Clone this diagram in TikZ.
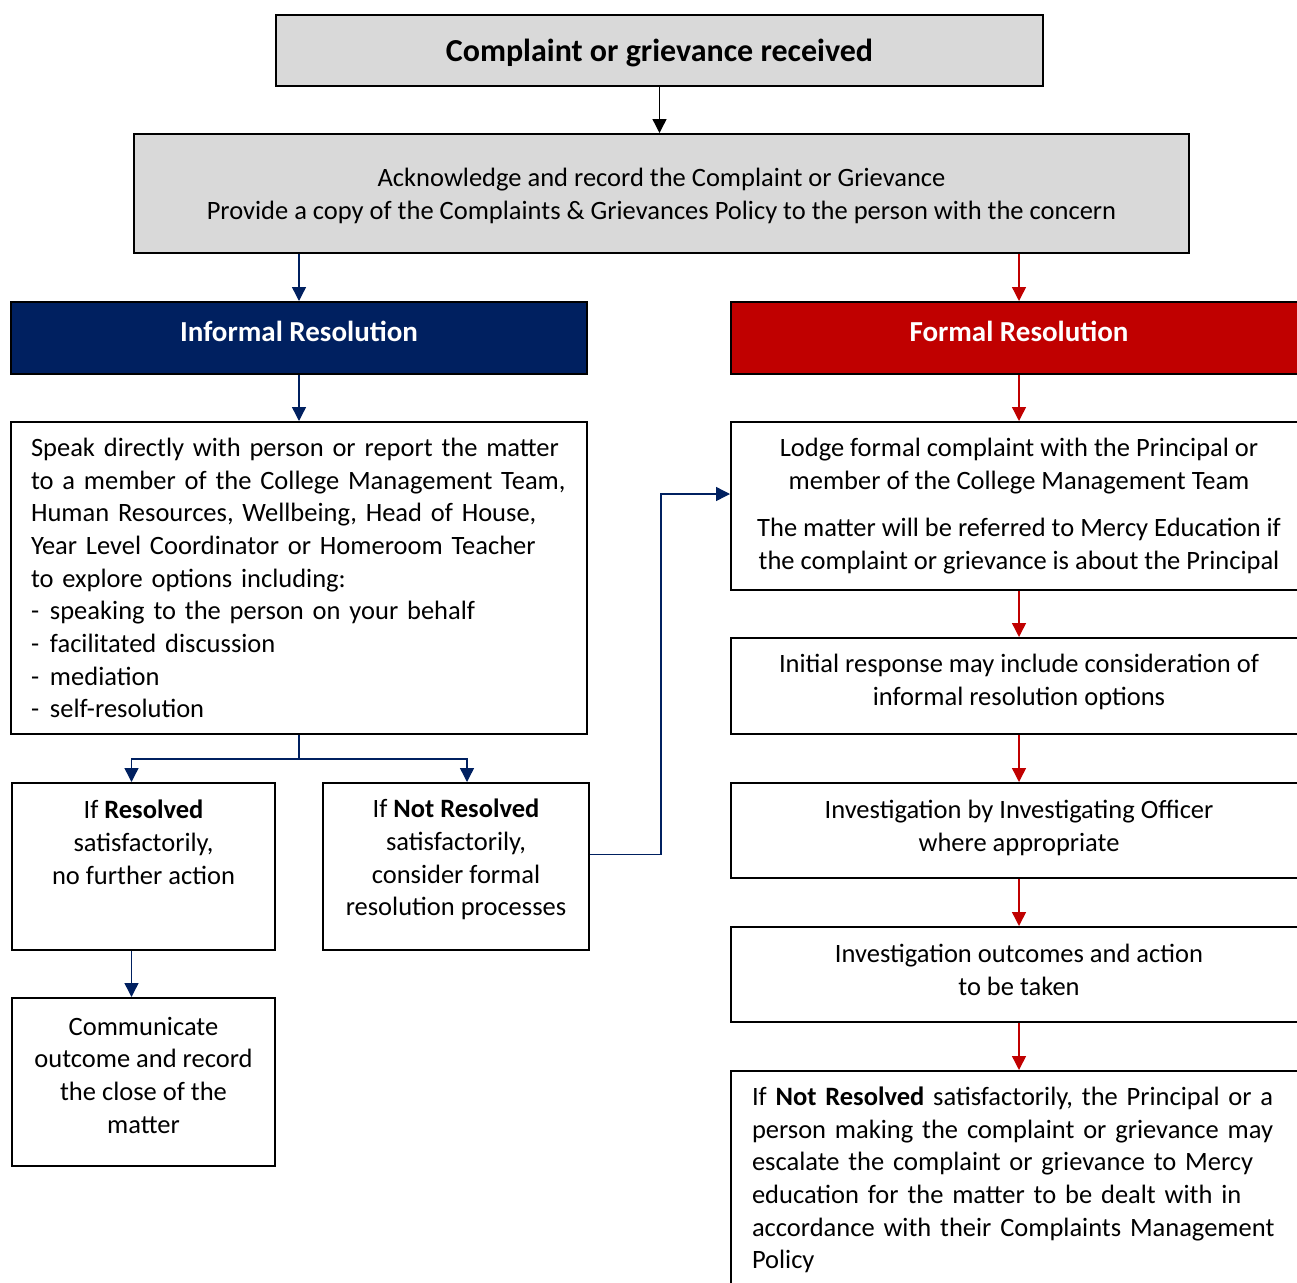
\documentclass[tikz,border=0pt]{standalone}
\usepackage{fontspec}
\setmainfont{Carlito}
\usetikzlibrary{arrows.meta,calc}
\definecolor{navy}{HTML}{002060}
\definecolor{dred}{HTML}{C00000}
\definecolor{lgray}{HTML}{D9D9D9}
\newcommand{\tightsp}{\spaceskip=4.4pt plus 1pt minus 1pt\relax}
\tikzset{
  box/.style={draw=black, line width=2pt, anchor=north west, inner xsep=0pt, inner ysep=0pt,
    font=\fontsize{26.5}{32.7}\selectfont, align=center},
  leftbox/.style={box, align=left, inner xsep=20pt,
    font=\fontsize{26.5}{32.7}\selectfont\tightsp},
  headbox/.style={box, text=white, minimum width=576pt, minimum height=72pt, text depth=14pt,
    font=\fontsize{29}{32}\selectfont\bfseries},
  bluearr/.style={draw=navy, line width=1.4pt, -{Triangle[length=14pt,width=14pt]}},
  redarr/.style={draw=dred, line width=1.4pt, -{Triangle[length=14pt,width=14pt]}},
  blackarr/.style={draw=black, line width=1.4pt, -{Triangle[length=14pt,width=14pt]}},
}
\newcommand{\itm}[1]{\makebox[19pt][l]{-}#1}
\begin{document}
\begin{tikzpicture}[x=1pt,y=-1pt]
\useasboundingbox (0,0) rectangle (1297,1282);
\clip (0,0) rectangle (1297,1282);

\node[box, fill=lgray, minimum width=767pt, minimum height=71pt, text depth=0pt,
  font=\fontsize{32}{36}\selectfont\bfseries] (top) at (275,14) {Complaint or grievance received};
\node[box, fill=lgray, minimum width=1055pt, minimum height=119pt, text depth=0pt] (ack) at (133,133)
  {Acknowledge and record the Complaint or Grievance\\Provide a copy of the Complaints \& Grievances Policy to the person with the concern};

\node[headbox, fill=navy] (inf) at (10,301) {Informal Resolution};
\node[headbox, fill=dred] (form) at (730,301) {Formal Resolution};

\node[leftbox, text width=536pt, minimum width=576pt, minimum height=312pt] (inftext) at (10,421)
  {Speak directly with person or report the matter\\
   to a member of the College Management Team,\\
   Human Resources, Wellbeing, Head of House,\\
   Year Level Coordinator or Homeroom Teacher\\
   to explore options including:\\
   \itm{speaking to the person on your behalf}\\
   \itm{facilitated discussion}\\
   \itm{mediation}\\
   \itm{self-resolution}};

\node[box, minimum width=263pt, minimum height=167pt, text depth=16pt] (res) at (11,782)
  {If \textbf{Resolved}\\satisfactorily,\\no further action\\\strut};
\node[box, minimum width=266pt, minimum height=167pt, text depth=18pt] (notres) at (322,782)
  {If \textbf{Not Resolved}\\satisfactorily,\\consider formal\\resolution processes};
\node[box, minimum width=263pt, minimum height=168pt, text depth=14pt] (comm) at (11,997)
  {Communicate\\outcome and record\\the close of the\\matter};

\node[box, minimum width=576pt, minimum height=168pt] (lodge) at (730,421)
  {Lodge formal complaint with the Principal or\\member of the College Management Team\\[15pt]
   The matter will be referred to Mercy Education if\\the complaint or grievance is about the Principal};
\node[box, minimum width=576pt, minimum height=96pt, text depth=12pt] (initial) at (730,637)
  {Initial response may include consideration of\\informal resolution options};
\node[box, minimum width=576pt, minimum height=95pt, text depth=10pt] (invest) at (730,782)
  {Investigation by Investigating Officer\\where appropriate};
\node[box, minimum width=576pt, minimum height=95pt, text depth=10pt] (outc) at (730,926)
  {Investigation outcomes and action\\to be taken};
\node[leftbox, inner xsep=21pt, text width=534pt, minimum width=576pt, minimum height=218pt] (last) at (730,1070)
  {If \textbf{Not Resolved} satisfactorily, the Principal or a\\
   person making the complaint or grievance may\\
   escalate the complaint or grievance to Mercy\\
   education for the matter to be dealt with in\\
   accordance with their Complaints Management\\
   Policy};

% connectors
\draw[blackarr] (top.south) -- (top.south |- ack.north);
\draw[bluearr] (ack.south -| inf.north) -- (inf.north);
\draw[redarr] (ack.south -| form.north) -- (form.north);
\draw[bluearr] (inf.south) -- (inftext.north);
\draw[bluearr] (inftext.south) -- ++(0,24) -| ([xshift=-12pt]res.north);
\draw[bluearr] (inftext.south) -- ++(0,24) -| ([xshift=11pt]notres.north);
\draw[bluearr] ([xshift=-12pt]res.south) -- ([xshift=-12pt]comm.north);
\draw[bluearr] ([yshift=12pt]notres.east) -- ++(71,0) |- ([yshift=12pt]lodge.west);

\draw[redarr] (form.south) -- (lodge.north);
\draw[redarr] (lodge.south) -- (initial.north);
\draw[redarr] (initial.south) -- (invest.north);
\draw[redarr] (invest.south) -- (outc.north);
\draw[redarr] (outc.south) -- (last.north);
\end{tikzpicture}
\end{document}
